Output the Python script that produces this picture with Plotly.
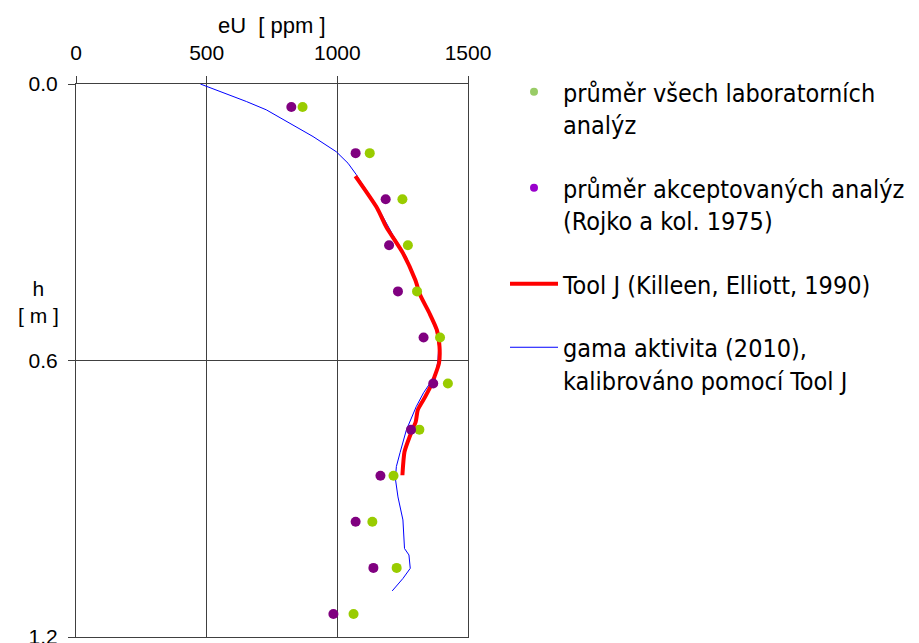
import plotly.graph_objects as go

# ---- data ----
depth_pts = [0.05, 0.15, 0.25, 0.35, 0.45, 0.55, 0.65, 0.75, 0.85, 0.95, 1.05, 1.15]
lab_all = [867, 1124, 1249, 1270, 1305, 1393, 1423, 1314, 1215, 1134, 1227, 1062]
lab_accepted = [824, 1070, 1185, 1198, 1232, 1330, 1367, 1282, 1165, 1070, 1138, 985]

toolj_depth = [0.20, 0.27, 0.31, 0.367, 0.425, 0.458, 0.498, 0.534, 0.570, 0.606,
               0.635, 0.65, 0.679, 0.707, 0.733, 0.765, 0.798, 0.849]
toolj_eu = [1069, 1153, 1187, 1251, 1298, 1317, 1353, 1381, 1391, 1389,
            1372, 1362, 1336, 1308, 1300, 1277, 1257, 1249]

gamma_depth = [0.0, 0.024, 0.038, 0.056, 0.089, 0.114, 0.147, 0.172, 0.197, 0.208,
               0.266, 0.328, 0.375, 0.425, 0.46, 0.50, 0.535, 0.57, 0.60, 0.62,
               0.642, 0.67, 0.700, 0.751, 0.80, 0.830, 0.856, 0.896, 0.946,
               1.008, 1.022, 1.051, 1.073, 1.100]
gamma_eu = [476, 588, 652, 728, 830, 907, 996, 1041, 1073, 1085,
            1153, 1213, 1264, 1298, 1318, 1352, 1378, 1388, 1385, 1379,
            1363, 1330, 1302, 1264, 1240, 1226, 1222, 1232, 1251,
            1257, 1274, 1279, 1251, 1210]

x_ticks = [0, 500, 1000, 1500]
y_ticks = [0.0, 0.6, 1.2]
y_ticktext = ["0.0", "0.6", "1.2"]

names = ["průměr všech laboratorních<br>analýz",
         "průměr akceptovaných analýz<br>(Rojko a kol. 1975)",
         "Tool J (Killeen, Elliott, 1990)",
         "gama aktivita (2010),<br>kalibrováno pomocí Tool J"]

fig = go.Figure()

# data marks
fig.add_trace(go.Scatter(x=gamma_eu, y=gamma_depth, mode="lines",
                         line=dict(color="#0000ff", width=1), showlegend=False))
fig.add_trace(go.Scatter(x=toolj_eu, y=toolj_depth, mode="lines",
                         line=dict(color="#ff0000", width=4, shape="spline", smoothing=0.6),
                         showlegend=False))
fig.add_trace(go.Scatter(x=lab_all, y=depth_pts, mode="markers",
                         marker=dict(color="#99cc00", size=10), showlegend=False))
fig.add_trace(go.Scatter(x=lab_accepted, y=depth_pts, mode="markers",
                         marker=dict(color="#800080", size=10), showlegend=False))

# legend entries
fig.add_trace(go.Scatter(x=[None], y=[None], mode="markers", name=names[0],
                         marker=dict(color="#99cc66", size=8), legendgroup="a"))
fig.add_trace(go.Scatter(x=[None], y=[None], mode="markers", name=names[1],
                         marker=dict(color="#9900cc", size=8), legendgroup="b"))
fig.add_trace(go.Scatter(x=[None], y=[None], mode="lines", name=names[2],
                         line=dict(color="#ff0000", width=4), legendgroup="c"))
fig.add_trace(go.Scatter(x=[None], y=[None], mode="lines", name=names[3],
                         line=dict(color="#0000ff", width=1), legendgroup="d"))

axis_col = "#404040"
tick_font = dict(family="Liberation Sans, Arial", size=21, color="#000000")

fig.update_layout(
    width=919, height=643,
    margin=dict(l=76, r=451, t=84, b=6, autoexpand=False),
    paper_bgcolor="white", plot_bgcolor="white",
    xaxis=dict(side="top", range=[0, 1500], tickvals=x_ticks,
               ticks="outside", ticklen=7, tickcolor=axis_col,
               showgrid=True, gridcolor=axis_col, gridwidth=1,
               showline=True, linecolor=axis_col, linewidth=1, mirror=True,
               zeroline=False, tickfont=tick_font, ticklabelstandoff=8,
               ticklabeloverflow="allow", automargin=False),
    yaxis=dict(range=[1.2, 0], tickvals=y_ticks, ticktext=y_ticktext,
               ticks="outside", ticklen=7, tickcolor=axis_col,
               showgrid=True, gridcolor=axis_col, gridwidth=1,
               showline=True, linecolor=axis_col, linewidth=1, mirror=True,
               zeroline=False, tickfont=tick_font, ticklabelstandoff=6,
               ticklabeloverflow="allow", automargin=False),
    legend=dict(xref="container", yref="container", x=505 / 919, y=1 - 69 / 643,
                xanchor="left", yanchor="top", valign="top", maxheight=560,
                font=dict(family="DejaVu Sans Condensed, DejaVu Sans", size=25, color="#000000"),
                tracegroupgap=28, itemwidth=48, bgcolor="rgba(0,0,0,0)"),
    annotations=[
        dict(text="eU\u00a0\u00a0[ ppm ]", xref="paper", yref="paper", x=0.5, y=1 + (84 - 25) / 553,
             xanchor="center", yanchor="middle", showarrow=False,
             font=dict(family="Liberation Sans, Arial", size=22, color="#000000")),
        dict(text="h<br>[ m ]", xref="paper", yref="paper", x=(38 - 76) / 392,
             y=1 - (302 - 84) / 553, xanchor="center", yanchor="middle",
             showarrow=False, font=tick_font),
    ],
)

fig.write_html("out.html", config={"displayModeBar": False},
               post_script="document.body.style.margin='0';document.body.style.overflow='hidden';")
